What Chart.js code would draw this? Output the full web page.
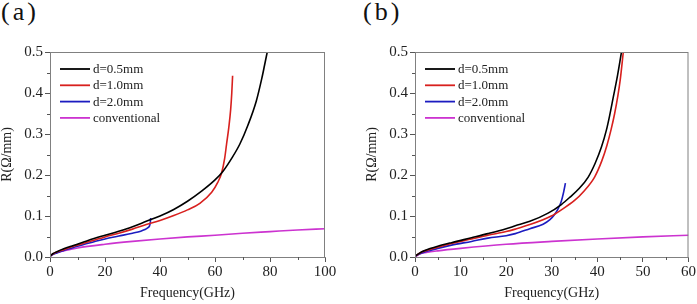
<!DOCTYPE html>
<html>
<head>
<meta charset="utf-8">
<script src="https://cdn.jsdelivr.net/npm/chart.js@4/dist/chart.umd.min.js"></script>
<style>
  html, body { margin: 0; padding: 0; background: #fff; }
  body { width: 697px; height: 304px; position: relative; overflow: hidden; font-family: "Liberation Serif", "Times New Roman", serif; }
  .panel { position: absolute; top: 0; }
  .tag { position: absolute; top: -3px; font-size: 26px; letter-spacing: 3px; color: #111; font-family: "Liberation Serif", serif; }
</style>
</head>
<body>
<div class="tag" style="left:1px;">(a)</div>
<div class="tag" style="left:363px;">(b)</div>
<canvas id="cA" class="panel" style="left:0px;" width="348" height="304"></canvas>
<canvas id="cB" class="panel" style="left:365px;" width="332" height="304"></canvas>
<script>
// ---------- data: panel (a) ----------
const labels = ["d=0.5mm", "d=1.0mm", "d=2.0mm", "conventional"];

const fA_black = [0, 1, 2.5, 5, 8.5, 12, 16, 20, 25, 30, 35, 40, 45, 50, 55, 60, 63, 66, 69, 72, 75, 77, 78, 79];
const rA_black = [0.002, 0.008, 0.013, 0.020, 0.028, 0.036, 0.045, 0.053, 0.063, 0.074, 0.087, 0.100, 0.116, 0.136, 0.160, 0.188, 0.210, 0.240, 0.275, 0.322, 0.380, 0.435, 0.467, 0.5];

const fA_red = [0, 1, 2.5, 5, 8.5, 12, 16, 20, 25, 30, 35, 40, 45, 50, 54.5, 58.8, 61, 62.4, 63.5, 64.2, 65, 65.7, 66.1, 66.4];
const rA_red = [0.002, 0.007, 0.012, 0.018, 0.026, 0.033, 0.041, 0.049, 0.058, 0.068, 0.079, 0.089, 0.101, 0.115, 0.131, 0.158, 0.182, 0.205, 0.240, 0.275, 0.315, 0.360, 0.400, 0.442];

const fA_blue = [0, 1, 2.5, 5, 8.5, 12, 16, 20, 25, 30, 33, 34.5, 35.5, 36.2, 36.45, 36.55, 36.6];
const rA_blue = [0.002, 0.006, 0.010, 0.016, 0.023, 0.030, 0.037, 0.044, 0.051, 0.058, 0.063, 0.067, 0.071, 0.076, 0.083, 0.090, 0.095];

const fA_conv = [0, 1, 2.5, 5, 10, 20, 30, 40, 50, 60, 70, 80, 90, 100];
const rA_conv = [0, 0.007, 0.011, 0.015, 0.022, 0.031, 0.038, 0.044, 0.049, 0.053, 0.058, 0.062, 0.066, 0.069];

// ---------- data: panel (b) ----------
const fB_black = [0, 1.5, 5, 8, 12.4, 16, 20, 22, 25.2, 29.2, 32.1, 34, 36, 38, 39.5, 40.9, 42, 42.7, 43.5, 44.3, 45.3];
const rB_black = [0.002, 0.013, 0.026, 0.035, 0.047, 0.057, 0.069, 0.076, 0.087, 0.107, 0.128, 0.146, 0.167, 0.195, 0.228, 0.268, 0.310, 0.345, 0.390, 0.435, 0.5];

const fB_red = [0, 1.5, 5, 8, 12.4, 16, 20, 22, 25.2, 29.9, 32.1, 35, 37, 39.4, 41, 42.1, 43, 43.8, 44.5, 45, 45.7];
const rB_red = [0.002, 0.012, 0.024, 0.033, 0.044, 0.053, 0.062, 0.068, 0.079, 0.100, 0.115, 0.138, 0.160, 0.195, 0.235, 0.272, 0.310, 0.350, 0.393, 0.430, 0.5];

const fB_blue = [0, 1.5, 5, 8, 12.4, 16, 20, 22, 25.2, 28.1, 29.6, 30.7, 31.5, 32.1, 32.6, 33.0];
const rB_blue = [0.002, 0.010, 0.021, 0.029, 0.038, 0.046, 0.052, 0.057, 0.069, 0.080, 0.091, 0.105, 0.120, 0.136, 0.158, 0.180];

const fB_conv = [0, 1, 2.5, 5, 10, 20, 30, 40, 50, 60];
const rB_conv = [0, 0.007, 0.011, 0.015, 0.021, 0.031, 0.038, 0.044, 0.049, 0.053];

// ---------- axis ticks ----------
const yTicks = [0.0, 0.1, 0.2, 0.3, 0.4, 0.5];
const xTicksA = [0, 20, 40, 60, 80, 100];
const xTicksB = [0, 10, 20, 30, 40, 50, 60];

// ---------- styling ----------
const colors = ["#000000", "#d8201e", "#1c1cc0", "#cc33d0"];
const FONT = '"Liberation Serif", "Times New Roman", serif';
const frameColor = "#808080";
const tickColor = "#555555";

function pts(xs, ys) { return xs.map((x, i) => ({ x: x, y: ys[i] })); }

const framePlugin = {
  id: "frameLegend",
  afterDraw(chart) {
    const ctx = chart.ctx;
    const a = chart.chartArea;
    ctx.save();
    ctx.strokeStyle = frameColor;
    ctx.lineWidth = 1;
    ctx.strokeRect(a.left + 0.5, a.top + 0.5, a.right - a.left - 1, a.bottom - a.top);
    ctx.strokeStyle = tickColor;
    const xs = chart.scales.x, ys = chart.scales.y;
    const xt = chart.options.plugins.frameLegend.xTicks;
    ctx.beginPath();
    for (let i = 0; i < xt.length - 1; i++) {
      const px = Math.round(xs.getPixelForValue((xt[i] + xt[i + 1]) / 2)) + 0.5;
      ctx.moveTo(px, a.bottom); ctx.lineTo(px, a.bottom + 3);
    }
    for (let i = 0; i < yTicks.length - 1; i++) {
      const py = Math.round(ys.getPixelForValue((yTicks[i] + yTicks[i + 1]) / 2)) + 0.5;
      ctx.moveTo(a.left, py); ctx.lineTo(a.left - 3, py);
    }
    ctx.stroke();
    ctx.font = "13px " + FONT;
    ctx.textBaseline = "middle";
    ctx.textAlign = "left";
    chart.data.datasets.forEach((ds, i) => {
      const y = a.top + 17 + i * 16.3;
      ctx.strokeStyle = ds.borderColor;
      ctx.lineWidth = 1.8;
      ctx.beginPath();
      ctx.moveTo(a.left + 10, y); ctx.lineTo(a.left + 40, y);
      ctx.stroke();
      ctx.fillStyle = "#222";
      ctx.fillText(ds.label, a.left + 43, y + 0.5);
    });
    ctx.restore();
  }
};

function makeChart(id, series, xTicks, xMax, rightPad) {
  const datasets = series.map((s, i) => ({
    label: labels[i],
    data: pts(s[0], s[1]),
    borderColor: colors[i],
    backgroundColor: colors[i],
    borderWidth: 1.6,
    pointRadius: 0,
    showLine: true,
    cubicInterpolationMode: "monotone",
    fill: false
  }));
  return new Chart(document.getElementById(id), {
    type: "scatter",
    data: { datasets: datasets },
    options: {
      responsive: false,
      animation: false,
      devicePixelRatio: 1,
      layout: { padding: { top: 52, right: rightPad, left: 0, bottom: 0 } },
      plugins: {
        legend: { display: false },
        tooltip: { enabled: false },
        frameLegend: { xTicks: xTicks }
      },
      scales: {
        x: {
          type: "linear", min: 0, max: xMax,
          afterBuildTicks: (sc) => { sc.ticks = xTicks.map(v => ({ value: v })); },
          afterFit: (sc) => { sc.height = 47; },
          grid: { drawOnChartArea: false, drawTicks: true, tickLength: 5, color: tickColor },
          border: { display: true, color: frameColor, width: 1 },
          ticks: { color: "#222", font: { family: FONT, size: 15 }, padding: 1, maxRotation: 0, autoSkip: false },
          title: { display: true, text: "Frequency(GHz)", color: "#222", font: { family: FONT, size: 14 }, padding: { top: 2, bottom: 2 } }
        },
        y: {
          type: "linear", min: 0, max: 0.5,
          afterBuildTicks: (sc) => { sc.ticks = yTicks.map(v => ({ value: v })); },
          afterFit: (sc) => { sc.width = 50; },
          grid: { drawOnChartArea: false, drawTicks: true, tickLength: 5, color: tickColor },
          border: { display: true, color: frameColor, width: 1 },
          ticks: { color: "#222", font: { family: FONT, size: 15 }, padding: 2, autoSkip: false, callback: (v) => Number(v).toFixed(1) },
          title: { display: true, text: "R(Ω/mm)", color: "#222", font: { family: FONT, size: 14, lineHeight: 1 }, padding: 0 }
        }
      }
    },
    plugins: [framePlugin]
  });
}

makeChart("cA", [[fA_black, rA_black], [fA_red, rA_red], [fA_blue, rA_blue], [fA_conv, rA_conv]], xTicksA, 100, 23);
makeChart("cB", [[fB_black, rB_black], [fB_red, rB_red], [fB_blue, rB_blue], [fB_conv, rB_conv]], xTicksB, 60, 8);
</script>
</body>
</html>
